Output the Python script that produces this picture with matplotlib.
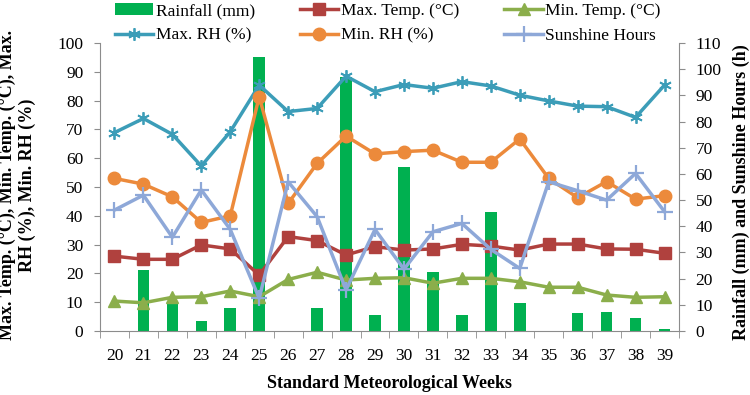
import matplotlib
matplotlib.use("Agg")
import matplotlib.pyplot as plt
import numpy as np

plt.rcParams['font.family'] = ['Liberation Serif', 'DejaVu Serif']

weeks = ['20', '21', '22', '23', '24', '25', '26', '27', '28', '29',
         '30', '31', '32', '33', '34', '35', '36', '37', '38', '39']
rainfall = [0, 23.3, 11.2, 3.8, 8.9, 104.8, 0, 8.7, 97.0, 6.1,
            62.8, 22.7, 6.1, 45.6, 10.6, 0, 7.0, 7.4, 4.8, 0.8]
max_temp = [26.0, 24.9, 24.9, 29.9, 28.5, 19.4, 32.8, 31.4, 26.4, 29.3,
            28.1, 28.5, 30.1, 29.5, 28.1, 30.2, 30.2, 28.5, 28.4, 27.0]
min_temp = [10.4, 9.8, 11.7, 11.9, 13.9, 11.9, 17.9, 20.4, 17.7, 18.3,
            18.5, 16.6, 18.3, 18.3, 17.1, 15.2, 15.2, 12.5, 11.7, 11.9]
max_rh = [68.9, 73.8, 68.3, 57.3, 69.2, 85.4, 76.2, 77.3, 88.5, 83.1,
          85.6, 84.3, 86.6, 85.1, 81.9, 79.9, 78.1, 77.9, 74.2, 85.4]
min_rh = [53.0, 51.0, 46.6, 37.7, 40.0, 81.4, 44.3, 58.2, 67.7, 61.5,
          62.3, 62.8, 58.6, 58.6, 66.7, 53.0, 46.3, 51.9, 45.8, 47.0]
sunshine = [46.2, 51.9, 35.8, 53.9, 38.8, 12.5, 57.0, 43.7, 15.7, 38.8,
            23.6, 37.9, 41.1, 31.2, 23.9, 57.0, 53.6, 50.0, 60.2, 45.6]

x = np.arange(len(weeks))
spine_col = '#8c8c8c'

fig = plt.figure(figsize=(7.5, 3.95), dpi=100)
ax = fig.add_axes([0.1333, 0.162, 0.772, 0.729])
ax2 = ax.twinx()
ax.set_zorder(2)
ax.patch.set_visible(False)

# rainfall bars on the right axis (drawn underneath the lines)
bars = ax2.bar(x, rainfall, width=0.4, color='#00B050', label='Rainfall (mm)')
ax2.set_ylim(0, 110)

lw = 2.5
l1, = ax.plot(x, max_temp, color='#B0413E', lw=lw, marker='s', ms=9, label='Max. Temp. (°C)')
l2, = ax.plot(x, min_temp, color='#8BAE4B', lw=lw, marker='^', ms=9, label='Min. Temp. (°C)')
l3, = ax.plot(x, max_rh, color='#3C9DB8', lw=lw, marker=(6, 2, 0), ms=9, mew=1.3,
              label='Max. RH (%)')
l4, = ax.plot(x, min_rh, color='#EC8A3B', lw=lw, marker='o', ms=9, label='Min. RH (%)')
l5, = ax.plot(x, sunshine, color='#8EA8D8', lw=lw, marker='+', ms=11, mew=1.6,
              transform=ax2.transData, label='Sunshine Hours')

ax.set_xlim(-0.5, len(weeks) - 0.5)
ax.set_ylim(0, 100)
ax.set_yticks(np.arange(0, 101, 10))
ax2.set_yticks(np.arange(0, 111, 10))
ax.set_xticks(x)
ax.set_xticklabels(weeks)
ax.set_xticks(np.arange(-0.5, len(weeks), 1), minor=True)
ax.tick_params(axis='x', which='major', length=0, pad=12, labelsize=12.5)
ax.tick_params(axis='x', which='minor', length=5, color=spine_col, direction='out')
ax.tick_params(axis='y', length=4, color=spine_col, pad=8, labelsize=12.5)
ax2.tick_params(axis='y', length=4, color=spine_col, pad=8, labelsize=12.5)

for s in ['top', 'right']:
    ax.spines[s].set_visible(False)
for s in ['top', 'left', 'bottom']:
    ax2.spines[s].set_visible(False)
ax.spines['left'].set_color(spine_col)
ax.spines['bottom'].set_color(spine_col)
ax2.spines['right'].set_color(spine_col)

fig.text(0.023, 0.532, 'Max. Temp. (°C), Min. Temp. (°C), Max.\nRH (%), Min. RH (%)',
         rotation=90, ha='center', va='center', multialignment='center',
         fontsize=13, fontweight='bold')
fig.text(0.989, 0.514, 'Rainfall (mm) and Sunshine Hours (h)', rotation=90,
         ha='center', va='center', fontsize=13, fontweight='bold')
fig.text(0.519, 0.03, 'Standard Meteorological Weeks', ha='center', va='center',
         fontsize=13, fontweight='bold')

handles = [bars, l3, l1, l4, l2, l5]
fig.legend(handles=handles, labels=[h.get_label() for h in handles], ncol=3,
           loc='upper left', bbox_to_anchor=(0.142, 1.015), frameon=False,
           fontsize=12.5, handlelength=2.2, handletextpad=0.15,
           columnspacing=2.6, labelspacing=0.5, borderpad=0)

fig.savefig('out.png', dpi=100)
